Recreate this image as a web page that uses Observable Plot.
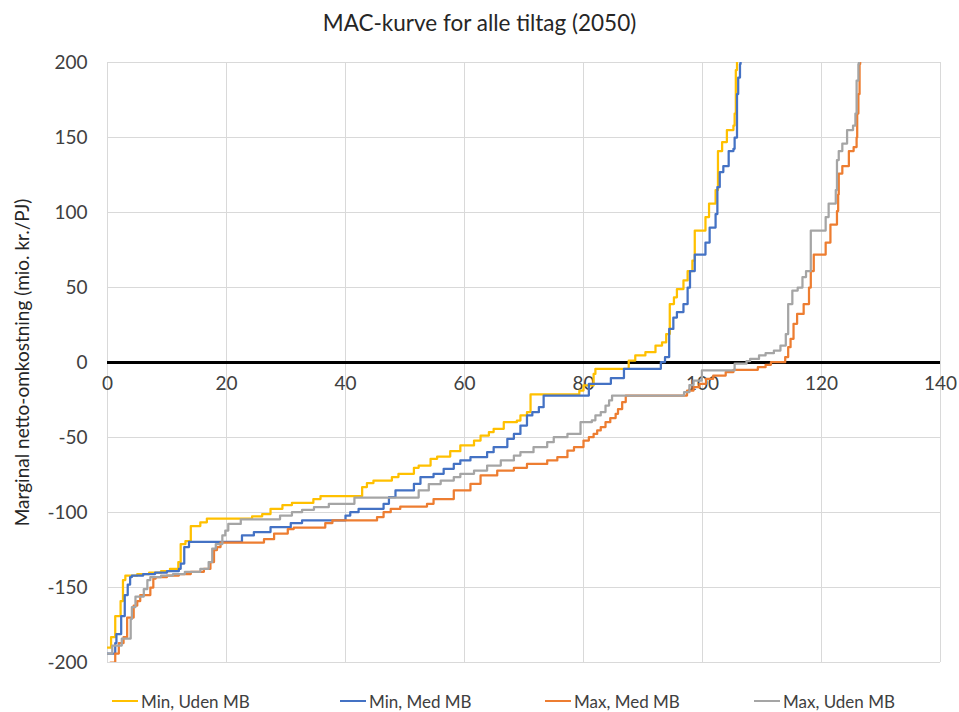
<!DOCTYPE html>
<html><head><meta charset="utf-8">
<script src="https://cdn.jsdelivr.net/npm/d3@7"></script>
<script src="https://cdn.jsdelivr.net/npm/@observablehq/plot@0.6"></script>
<style>
body{margin:0;background:#fff;font-family:Lato,"Open Sans",sans-serif;color:#262626;}
#title{height:44px;line-height:46px;text-align:center;font-size:22.5px;width:959px;}
#legend{height:38px;display:flex;align-items:center;font-size:17px;color:#404040;padding-left:112px;}
#legend .item{display:flex;align-items:center;}
#legend .sw{width:26px;height:2.5px;margin-right:3px;}
svg{display:block;}
</style></head><body>
<div id="title">MAC-kurve for alle tiltag (2050)</div>
<div id="chart"></div>
<div id="legend"></div>
<script>
const seriesNames = ["Min, Uden MB", "Min, Med MB", "Max, Med MB", "Max, Uden MB"];
const seriesColors = ["#FFC000", "#4472C4", "#ED7D31", "#A5A5A5"];
const xTicks = [0, 20, 40, 60, 80, 100, 120, 140];
const yTicks = [-200, -150, -100, -50, 0, 50, 100, 150, 200];
const yLabel = "Marginal netto-omkostning (mio. kr./PJ)";

// Min, Uden MB (cumulative potential PJ, marginal cost)
const minUdenX = [0, 0.6, 1.3, 2.2, 2.6, 3.0, 5.0, 7.0, 9.0, 10.5, 11.9, 12.3, 13.1, 14.0, 15.6, 16.7, 24.3, 26.0, 27.4, 29.4, 31.0, 34.6, 35.8, 42.8, 43.6, 44.7, 47.8, 48.9, 51.5, 52.3, 54.3, 55.4, 57.6, 59.3, 61.6, 62.7, 64.1, 64.9, 66.6, 68.8, 69.4, 70.5, 71.1, 79.3, 80.0, 81.7, 82.0, 87.6, 88.7, 90.4, 92.1, 93.2, 93.9, 94.5, 95.2, 95.7, 96.8, 97.5, 98.3, 98.7, 100.5, 101.1, 102.2, 102.6, 103.3, 104.1, 105.2, 105.4, 105.6, 105.8];
const minUdenY = [-190, -183, -169, -159, -145, -142, -141, -140, -139, -137.5, -133, -121, -119, -109, -106.5, -104, -102.5, -101, -97.5, -95, -93.5, -91, -89, -83, -80.4, -78.7, -76.4, -74.2, -70.2, -68.7, -64.2, -62.7, -59.1, -55.3, -52, -48.7, -46.4, -44.2, -39.8, -38.7, -35.3, -33.1, -21.3, -18.7, -15.3, -7.6, -4.2, 1.3, 4.7, 6.9, 11.3, 13.5, 19, 39, 43.5, 49, 54.7, 61, 68, 88, 97, 106, 115, 141, 147, 155, 158, 166, 195, 230];

// Min, Med MB
const minMedX = [0, 1.3, 1.5, 2.3, 2.9, 3.4, 3.8, 4.1, 6.0, 8.0, 10.0, 12.0, 12.3, 12.9, 13.7, 22.6, 24.6, 27.4, 30.8, 32.7, 40.0, 40.8, 42.2, 46.4, 47.3, 48.4, 51.5, 52.6, 54.8, 56.5, 58.2, 59.3, 61.0, 63.8, 64.9, 67.2, 68.3, 69.4, 70.5, 71.4, 72.5, 73.3, 80.9, 84.6, 86.8, 93.0, 93.7, 94.4, 95.1, 95.7, 96.8, 97.5, 97.9, 98.7, 100.5, 101.2, 102.2, 102.5, 102.9, 103.5, 104.4, 105.2, 105.4, 105.8, 106.0, 106.3, 106.4];
const minMedY = [-194, -187, -181, -169, -155, -148, -143, -142, -141, -140, -139, -137.5, -134, -123, -119.5, -115.3, -113, -109.8, -107, -105.3, -102, -99.8, -97.5, -94.2, -89.8, -85.3, -80.9, -76.4, -74.2, -70.9, -67.6, -65.3, -63.1, -59.8, -56.4, -50.9, -47.6, -42, -35.3, -33.1, -29.8, -22, -14.2, -10.4, -4.2, 0.3, 3.6, 22.4, 30, 33.6, 39, 50, 61, 72, 80, 90, 99, 117, 127, 131, 141, 142.5, 150, 179, 190, 199, 230];

// Max, Med MB
const maxMedX = [0, 0.5, 1.3, 1.9, 2.7, 3.3, 4.4, 5.0, 5.5, 7.2, 7.7, 8.1, 10.0, 12.0, 14.0, 16.2, 17.3, 17.9, 18.4, 19.0, 26.3, 28.0, 30.3, 31.3, 36.6, 37.8, 45.3, 46.4, 47.6, 49.2, 53.7, 54.8, 58.2, 61.0, 62.7, 65.5, 68.3, 70.5, 73.9, 75.6, 77.3, 78.4, 80.0, 80.9, 81.7, 82.3, 82.9, 83.7, 84.5, 85.4, 85.8, 86.5, 87.1, 97.4, 98.5, 99.5, 100.6, 101.8, 103.9, 105.2, 109.3, 110.6, 111.5, 113.9, 114.4, 114.8, 115.3, 115.9, 117.0, 117.9, 118.2, 118.7, 120.7, 121.5, 122.6, 122.8, 122.9, 123.5, 124.6, 125.4, 125.9, 126.0, 126.2, 126.4, 126.5];
const maxMedY = [-210, -200, -194, -187, -183, -170, -162, -159, -155, -150, -144, -143, -142, -141, -139.5, -137.5, -133, -125, -123, -120, -117.8, -114, -111, -110, -107, -105.3, -103, -99.8, -97.6, -96, -94.2, -91, -85.3, -80.9, -75.3, -72, -70.2, -67.6, -65.3, -63.1, -58.7, -56.4, -52, -49.8, -47.6, -45.3, -43, -39.8, -37, -34.2, -31, -26.4, -22, -18.7, -16.4, -14.2, -10.9, -8.7, -6.4, -4.9, -3.1, -1.5, 0.2, 3.6, 10.2, 15.8, 25.8, 32.4, 39, 50, 61, 72, 80, 92, 101, 112, 126, 131, 141, 143.6, 150, 166, 179, 199, 230];

// Max, Uden MB
const maxUdenX = [0, 0.8, 2.4, 3.9, 4.1, 4.7, 6.1, 6.7, 7.2, 9.0, 11.0, 13.0, 15.6, 17.0, 17.6, 18.2, 19.3, 19.8, 20.3, 22.4, 29.0, 31.0, 32.7, 34.7, 37.2, 41.5, 52.3, 54.0, 56.0, 58.2, 59.3, 61.6, 63.8, 66.1, 68.3, 69.4, 71.6, 73.9, 75.0, 77.3, 79.5, 81.4, 82.0, 82.9, 83.7, 84.3, 84.8, 96.9, 97.8, 98.5, 99.9, 105.4, 107.4, 108.0, 109.5, 110.6, 112.0, 113.1, 114.0, 114.4, 115.1, 116.0, 116.8, 117.4, 118.2, 120.7, 121.2, 122.4, 122.6, 122.9, 123.5, 124.3, 125.3, 125.7, 125.9, 126.2, 126.3];
const maxUdenY = [-194, -188.7, -184, -171, -163, -156, -151, -145, -143, -142, -141, -139.5, -137.5, -133, -124, -121, -115.3, -112, -107.6, -104.5, -102, -99.8, -98.2, -96.4, -94.2, -90, -85.3, -81, -78.7, -76.4, -74.2, -72, -68.7, -65.3, -62, -59.8, -56.4, -53.1, -49.8, -47.6, -39.8, -38.5, -35.3, -33, -28.7, -25.3, -22, -19.8, -15, -12, -5.3, -0.8, 1, 2.4, 4.7, 6.2, 8, 11.3, 19, 39, 48, 50, 57, 61, 88, 97, 106, 115, 135, 141, 146, 155, 158, 166, 188, 199, 230];

const seriesX = [minUdenX, minMedX, maxMedX, maxUdenX];
const seriesY = [minUdenY, minMedY, maxMedY, maxUdenY];

const rows = seriesNames.flatMap((name, s) =>
  seriesX[s].map((x, i) => ({series: name, x, y: seriesY[s][i]})));

const font = "Lato, 'Open Sans', sans-serif";

const chart = Plot.plot({
  width: 959,
  height: 638,
  marginTop: 18,
  marginBottom: 20,
  marginLeft: 107,
  marginRight: 19,
  style: {fontFamily: font, color: "#404040", background: "white"},
  x: {domain: [0, 140], axis: null},
  y: {domain: [-200, 200], axis: null},
  color: {domain: seriesNames, range: seriesColors},
  marks: [
    Plot.gridX(xTicks, {stroke: "#d9d9d9", strokeOpacity: 1, strokeWidth: 1}),
    Plot.gridY(yTicks, {stroke: "#d9d9d9", strokeOpacity: 1, strokeWidth: 1}),
    Plot.axisY(yTicks, {
      tickSize: 0, tickPadding: 20, fontSize: 19,
      tickFormat: d => String(d), label: null
    }),
    Plot.text([yLabel], {frameAnchor: "left", textAnchor: "middle", rotate: -90, dx: -85, text: d => d, fontSize: 19, fill: "#262626"}),
    Plot.ruleY([0], {stroke: "black", strokeWidth: 3}),
    Plot.text(xTicks, {x: d => d, y: 0, dy: 21, text: d => String(d), fontSize: 19, fill: "#404040"}),
    Plot.line(rows, {x: "x", y: "y", z: "series", stroke: "series", curve: "step-after", strokeWidth: 2.25, clip: true})
  ]
});
document.getElementById("chart").appendChild(chart);

const legend = document.getElementById("legend");
const itemWidths = [228, 205, 209, null];
seriesNames.forEach((name, i) => {
  const it = document.createElement("div");
  it.className = "item";
  if (itemWidths[i]) it.style.width = itemWidths[i] + "px";
  const sw = document.createElement("span");
  sw.className = "sw";
  sw.style.background = seriesColors[i];
  const tx = document.createElement("span");
  tx.textContent = name;
  it.appendChild(sw); it.appendChild(tx);
  legend.appendChild(it);
});
</script>
</body></html>
